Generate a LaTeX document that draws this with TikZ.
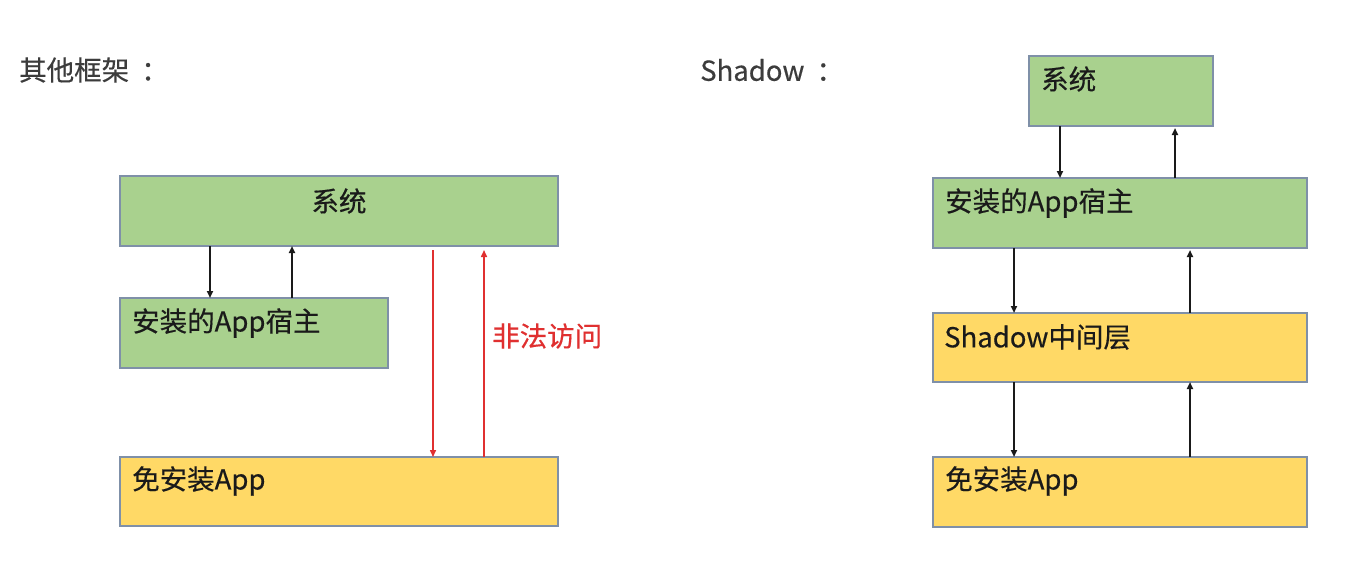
\documentclass[tikz,border=0pt]{standalone}
\usepackage{fontspec}
\setmainfont{Noto Sans CJK SC}[FakeBold=0.4]
\usetikzlibrary{arrows.meta,calc}
\definecolor{boxgreen}{HTML}{A9D18E}
\definecolor{boxyellow}{HTML}{FFD966}
\definecolor{boxline}{HTML}{7F90A8}
\definecolor{txtdark}{HTML}{1A1A1A}
\definecolor{illegal}{HTML}{E03030}
\tikzset{
  box/.style={rectangle, draw=boxline, line width=1.2pt, anchor=north west, inner sep=0pt, outer sep=0pt},
  gbox/.style={box, fill=boxgreen},
  ybox/.style={box, fill=boxyellow},
  txt/.style={text=txtdark, font=\fontsize{27.5}{32}\selectfont, inner sep=0pt},
  ttl/.style={text=txtdark!85, font=\fontsize{27.5}{32}\selectfont, inner sep=0pt, anchor=west},
  arr/.style={-{Triangle[length=7pt,width=6pt]}, line width=1.8pt, draw=txtdark},
  redarr/.style={-{Triangle[length=7pt,width=6pt]}, line width=1.5pt, draw=illegal}
}
\begin{document}
\begin{tikzpicture}[x=1pt,y=-1pt]
\useasboundingbox[fill=white] (0,0) rectangle (1368,560);
% titles
\node[ttl] (t1) at (19,70) {其他框架\hspace{12pt}：};
\node[ttl] (t2) at (700,70) {Shadow\hspace{12pt}：};
% left diagram
\node[gbox, minimum width=438pt, minimum height=70pt] (lsys) at (120,176) {};
\node[gbox, minimum width=268pt, minimum height=70pt] (lhost) at (120,298) {};
\node[ybox, minimum width=438pt, minimum height=69pt] (lfree) at (120,457) {};
\node[txt] (lsyst) at ($(lsys.north)+(0,25)$) {系统};
\node[txt, anchor=west] (lhostt) at ($(lhost.north west)+(12,25)$) {安装的App宿主};
\node[txt, anchor=west] (lfreet) at ($(lfree.north west)+(12,24)$) {免安装App};
\draw[arr] ([xshift=90]lsys.south west) -- ([xshift=90]lhost.north west);
\draw[arr] ([xshift=172]lhost.north west) -- ([xshift=172]lsys.south west);
\draw[redarr] ([xshift=313,yshift=-4]lsys.south west) -- ([xshift=313]lfree.north west);
\draw[redarr] ([xshift=364]lfree.north west) -- ([xshift=364,yshift=-4]lsys.south west);
\node[txt, text=illegal, anchor=west] (ill) at (492,336) {非法访问};
% right diagram
\node[gbox, minimum width=184pt, minimum height=70pt] (rsys) at (1029,56) {};
\node[gbox, minimum width=374pt, minimum height=70pt] (rhost) at (933,178) {};
\node[ybox, minimum width=374pt, minimum height=69pt] (rmid) at (933,313) {};
\node[ybox, minimum width=374pt, minimum height=70pt] (rfree) at (933,457) {};
\node[txt, anchor=west] (rsyst) at ($(rsys.north west)+(12,23)$) {系统};
\node[txt, anchor=west] (rhostt) at ($(rhost.north west)+(12,25)$) {安装的App宿主};
\node[txt, anchor=west] (rmidt) at ($(rmid.north west)+(11,24)$) {Shadow中间层};
\node[txt, anchor=west] (rfreet) at ($(rfree.north west)+(12,24)$) {免安装App};
\draw[arr] ([xshift=31]rsys.south west) -- ([xshift=127]rhost.north west);
\draw[arr] ([xshift=242]rhost.north west) -- ([xshift=146,yshift=-2]rsys.south west);
\draw[arr] ([xshift=81]rhost.south west) -- ([xshift=81]rmid.north west);
\draw[arr] ([xshift=257]rmid.north west) -- ([xshift=257,yshift=-2]rhost.south west);
\draw[arr] ([xshift=81]rmid.south west) -- ([xshift=81]rfree.north west);
\draw[arr] ([xshift=257]rfree.north west) -- ([xshift=257]rmid.south west);
\end{tikzpicture}
\end{document}
